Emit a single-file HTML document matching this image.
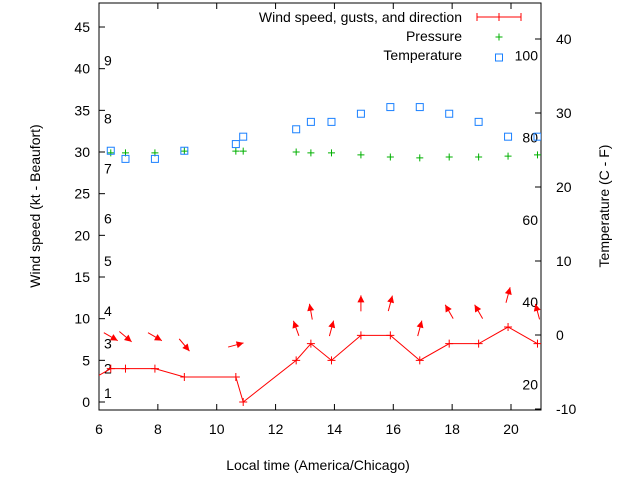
<!DOCTYPE html>
<html><head><meta charset="utf-8"><style>
body{margin:0;background:#fff}
svg text{font-family:"Liberation Sans",sans-serif;font-size:14px;fill:#000}
</style></head><body>
<svg id="c" width="640" height="480">
<rect x="0" y="0" width="640" height="480" fill="#fff"/>
<g id="g"></g>
</svg>
<script>
const hours=[6.4,6.9,7.9,8.9,10.65,10.9,12.7,13.2,13.9,14.9,15.9,16.9,17.9,18.9,19.9,20.9];
const windSpeed=[4,4,4,3,3,0,5,7,5,8,8,5,7,7,9,7];
const windDir=[120,130,120,140,75,null,340,350,15,0,15,15,330,330,15,345];
const pressure=[29.9,29.9,29.9,30.1,30.1,30.1,30.0,29.9,29.9,29.65,29.4,29.3,29.4,29.4,29.5,29.65];
const tempC=[24.9,23.8,23.8,24.9,25.8,26.8,27.8,28.8,28.8,29.9,30.8,30.8,29.9,28.8,26.8,26.8];
const xTicks=[6,8,10,12,14,16,18,20];
const yTicks=[0,5,10,15,20,25,30,35,40,45];
const y2Ticks=[-10,0,10,20,30,40];
const beaufort=[[1,1.1],[2,4],[3,7],[4,10.9],[5,16.9],[6,22],[7,28],[8,34],[9,41]];
const fahr=[20,40,60,80,100];
const L=99,R=541,T=3,B=410;
const X=h=>L+(h-6)*(511-99)/14;
const Y=v=>402-v*8.333;
const Y2=c=>335-c*7.4;
const g=document.getElementById('g');const NS='http://www.w3.org/2000/svg';
function el(t,a,txt){const e=document.createElementNS(NS,t);for(const k in a)e.setAttribute(k,a[k]);if(txt!==undefined)e.textContent=txt;g.appendChild(e);return e;}
const cp=el('clipPath',{id:'cp'});const cr=document.createElementNS(NS,'rect');cr.setAttribute('x',L);cr.setAttribute('y',T);cr.setAttribute('width',R-L);cr.setAttribute('height',B-T);cp.appendChild(cr);
let e=el('rect',{x:L,y:T,width:R-L,height:B-T,fill:'none',stroke:'#000','stroke-width':1});


xTicks.forEach(t=>{const x=X(t);
el('line',{x1:x,x2:x,y1:B,y2:B-6,stroke:'#000'});el('line',{x1:x,x2:x,y1:T,y2:T+6,stroke:'#000'});
const tx=el('text',{x:x,y:B+24,'text-anchor':'middle'},t);

});
yTicks.forEach(t=>{const y=Y(t);el('line',{x1:L,x2:L+6,y1:y,y2:y,stroke:'#000'});
const tx=el('text',{x:90,y:y+5,'text-anchor':'end'},t);

});
y2Ticks.forEach(t=>{const y=Y2(t);el('line',{x1:R-6,x2:R,y1:y,y2:y,stroke:'#000'});
const tx=el('text',{x:556,y:y+5},t);

});
beaufort.forEach(b=>{const tx=el('text',{x:104,y:Y(b[1])+5},b[0]);

});
fahr.forEach(f=>{const tx=el('text',{x:538,y:Y2((f-32)*5/9)+5,'text-anchor':'end'},f);

});
e=el('text',{x:318,y:470,'text-anchor':'middle'},'Local time (America/Chicago)');


e=el('text',{x:40,y:206,'text-anchor':'middle',transform:'rotate(-90 40 206)'},'Wind speed (kt - Beaufort)');


e=el('text',{x:609,y:206,'text-anchor':'middle',transform:'rotate(-90 609 206)'},'Temperature (C - F)');


const dg=document.createElementNS(NS,'g');dg.setAttribute('clip-path','url(#cp)');g.appendChild(dg);
function d(t,a){const x=document.createElementNS(NS,t);for(const k in a)x.setAttribute(k,a[k]);dg.appendChild(x);return x;}
function plus(x,y,c,s){return d('path',{d:`M${x-s} ${y}H${x+s}M${x} ${y-s}V${y+s}`,stroke:c,'stroke-width':1,fill:'none'});}
let pts=[[X(5.9),Y(3)]].concat(hours.map((h,i)=>[X(h),Y(windSpeed[i])]));
e=d('polyline',{points:pts.map(p=>p.join(',')).join(' '),fill:'none',stroke:'#f00','stroke-width':1});


hours.forEach((h,i)=>{e=plus(X(h),Y(windSpeed[i]),'#f00',4);


if(windDir[i]!==null){const a=windDir[i]*Math.PI/180,cx=X(h),cy=Y(windSpeed[i])-32,len=8;
const dx=Math.sin(a),dy=-Math.cos(a);const hx=cx+dx*len,hy=cy+dy*len;
const ar=d('g',{});


const l=document.createElementNS(NS,'line');l.setAttribute('x1',cx-dx*len);l.setAttribute('y1',cy-dy*len);l.setAttribute('x2',hx);l.setAttribute('y2',hy);l.setAttribute('stroke','#f00');ar.appendChild(l);
const px=-dy,py=dx;const p=document.createElementNS(NS,'polygon');
p.setAttribute('points',`${hx},${hy} ${hx-dx*7+px*3.5},${hy-dy*7+py*3.5} ${hx-dx*7-px*3.5},${hy-dy*7-py*3.5}`);p.setAttribute('fill','#f00');ar.appendChild(p);}
});
hours.forEach((h,i)=>{e=plus(X(h),Y(pressure[i]),'#00b000',3.5);

});
hours.forEach((h,i)=>{e=d('rect',{x:X(h)-3.5,y:Y2(tempC[i])-3.5,width:7,height:7,fill:'none',stroke:'#1a80ff','stroke-width':1});

});
e=el('text',{x:462,y:22,'text-anchor':'end'},'Wind speed, gusts, and direction');


el('path',{d:'M477 17H521M477 13V21M499 13V21M521 13V21',stroke:'#f00',fill:'none'});
e=el('text',{x:462,y:41,'text-anchor':'end'},'Pressure');


el('path',{d:'M495.5 37H502.5M499 33.5V40.5',stroke:'#00b000',fill:'none'});
e=el('text',{x:462,y:60,'text-anchor':'end'},'Temperature');


el('rect',{x:495.5,y:54,width:7,height:7,fill:'none',stroke:'#1a80ff'});
</script>
</body></html>
